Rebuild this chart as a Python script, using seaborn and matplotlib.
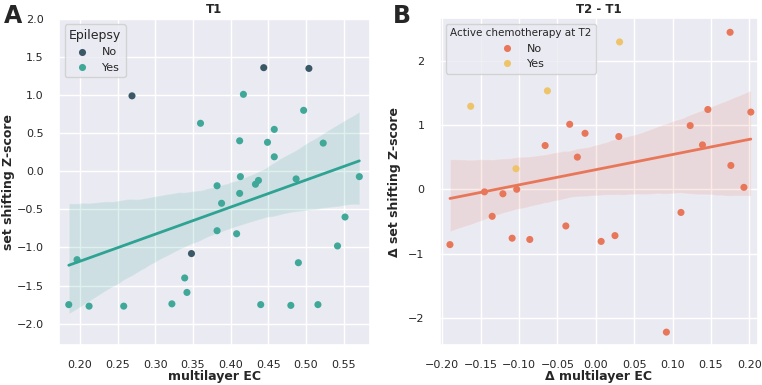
import pandas as pd
import seaborn as sns
import matplotlib.pyplot as plt

# Panel A: T1
t1_ec = [0.269, 0.444, 0.504, 0.348,
         0.417, 0.360, 0.497, 0.458, 0.412, 0.449, 0.523, 0.458, 0.413, 0.571,
         0.382, 0.437, 0.433, 0.487, 0.412, 0.388, 0.382, 0.408, 0.196, 0.339,
         0.342, 0.185, 0.212, 0.258, 0.322, 0.440, 0.480, 0.516, 0.490, 0.542,
         0.552]
t1_z = [0.99, 1.36, 1.35, -1.08,
        1.01, 0.63, 0.80, 0.55, 0.40, 0.38, 0.37, 0.19, -0.07, -0.07,
        -0.19, -0.12, -0.17, -0.10, -0.29, -0.42, -0.78, -0.82, -1.16, -1.40,
        -1.59, -1.75, -1.77, -1.77, -1.74, -1.75, -1.76, -1.75, -1.20, -0.98,
        -0.60]
t1_epilepsy = ["No"] * 4 + ["Yes"] * 31

# Panel B: T2 - T1
d_ec = [-0.163, -0.063, 0.031, -0.104,
        0.175, 0.146, 0.202, 0.123, 0.139, -0.034, -0.014, 0.030, -0.066,
        -0.024, 0.176, 0.193, -0.145, -0.121, -0.103, -0.135, -0.190, -0.109,
        -0.086, -0.039, 0.007, 0.025, 0.111, 0.092]
d_z = [1.29, 1.53, 2.29, 0.32,
       2.44, 1.24, 1.20, 0.99, 0.69, 1.01, 0.87, 0.82, 0.68,
       0.50, 0.37, 0.03, -0.04, -0.07, 0.00, -0.42, -0.86, -0.76,
       -0.78, -0.57, -0.81, -0.72, -0.36, -2.22]
d_chemo = ["Yes"] * 4 + ["No"] * 24

df1 = pd.DataFrame({"ec": t1_ec, "z": t1_z, "Epilepsy": t1_epilepsy})
df2 = pd.DataFrame({"ec": d_ec, "z": d_z, "chemo": d_chemo})

sns.set_theme(style="darkgrid")
plt.rcParams['font.family'] = ['DejaVu Sans']

fig = plt.figure(figsize=(7.62, 3.85), dpi=100)
ax1 = fig.add_axes([0.0774, 0.1039, 0.408, 0.847])
ax2 = fig.add_axes([0.5774, 0.1039, 0.417, 0.849])

pal1 = {"No": "#3b5866", "Yes": "#3fa898"}
pal2 = {"No": "#e8775a", "Yes": "#eec46a"}

# regression over all subjects
sns.regplot(data=df1, x="ec", y="z", scatter=False,
            color="#2ea393", line_kws={"lw": 2}, seed=1, ax=ax1)
sns.scatterplot(data=df1, x="ec", y="z", hue="Epilepsy", hue_order=["No", "Yes"],
                palette=pal1, s=26, edgecolor="none", ax=ax1)

sns.regplot(data=df2, x="ec", y="z", scatter=False,
            color="#e8775a", line_kws={"lw": 2}, seed=1, ax=ax2)
sns.scatterplot(data=df2, x="ec", y="z", hue="chemo", hue_order=["No", "Yes"],
                palette=pal2, s=26, edgecolor="none", ax=ax2)

ax1.set_xlim(0.172, 0.585)
ax1.set_ylim(-2.28, 2.0)
ax1.set_xticks([0.20, 0.25, 0.30, 0.35, 0.40, 0.45, 0.50, 0.55])
ax1.set_yticks([-2.0, -1.5, -1.0, -0.5, 0.0, 0.5, 1.0, 1.5, 2.0])
ax1.set_xlabel("multilayer EC", fontsize=9, fontweight="bold", labelpad=0)
ax1.set_ylabel("set shifting Z-score", fontsize=9, fontweight="bold", labelpad=1)
ax1.set_title("T1", fontsize=8.5, fontweight="bold", pad=4)
ax1.tick_params(labelsize=8, pad=5)
ax1.legend(title="Epilepsy", loc="upper left", fontsize=8, title_fontsize=9)

ax2.set_xlim(-0.203, 0.211)
ax2.set_ylim(-2.42, 2.66)
ax2.set_xticks([-0.20, -0.15, -0.10, -0.05, 0.00, 0.05, 0.10, 0.15, 0.20])
ax2.set_yticks([-2, -1, 0, 1, 2])
ax2.set_xlabel("Δ multilayer EC", fontsize=9, fontweight="bold", labelpad=0)
ax2.set_ylabel("Δ set shifting Z-score", fontsize=9, fontweight="bold", labelpad=5)
ax2.set_title("T2 - T1", fontsize=8.5, fontweight="bold", pad=4)
ax2.tick_params(labelsize=8, pad=5)
ax2.legend(title="Active chemotherapy at T2", loc="upper left", fontsize=8,
           title_fontsize=7.5)

fig.text(0.005, 0.99, "A", fontsize=17, fontweight="bold", va="top")
fig.text(0.515, 0.99, "B", fontsize=17, fontweight="bold", va="top")

fig.savefig("out.png", dpi=100)
